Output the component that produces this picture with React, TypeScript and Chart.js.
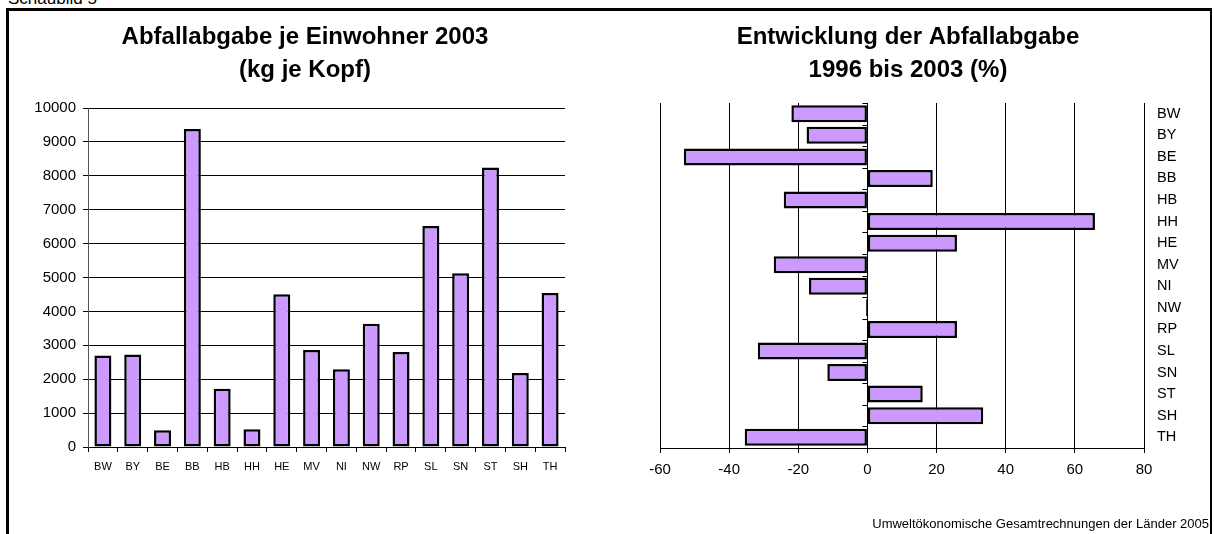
import React, { useEffect, useRef } from "react";
import { Chart, registerables } from "chart.js";

Chart.register(...registerables);

// ---------- data ----------
const categories = ["BW", "BY", "BE", "BB", "HB", "HH", "HE", "MV", "NI", "NW", "RP", "SL", "SN", "ST", "SH", "TH"];
const wastePerCapita2003 = [2700, 2730, 495, 9380, 1715, 525, 4505, 2865, 2295, 3635, 2805, 6520, 5125, 8245, 2180, 4540];
const change1996to2003 = [-22.0, -17.6, -53.1, 18.9, -24.2, 65.8, 25.9, -27.1, -16.9, -0.4, 25.9, -31.7, -11.6, 16.0, 33.5, -35.5];
const leftTitle = ["Abfallabgabe je Einwohner 2003", "(kg je Kopf)"];
const rightTitle = ["Entwicklung der Abfallabgabe", "1996 bis 2003 (%)"];
const leftAxis = { min: 0, max: 10000, step: 1000 };
const rightAxis = { min: -60, max: 80, step: 20 };
const pageHeading = "Schaubild 5";
const sourceNote = "Umweltökonomische Gesamtrechnungen der Länder 2005";

const FONT = "'Liberation Sans', Arial, Helvetica, sans-serif";
const BAR_FILL = "#CC99FF";

Chart.defaults.color = "#000";
Chart.defaults.font.family = FONT;

// invisible spacer scale (used only to centre the titles like the original)
const spacer = (position: string, width: number) => ({
  type: "linear",
  position,
  display: true,
  grid: { display: false, drawTicks: false },
  border: { display: false },
  ticks: { display: false },
  afterFit: (s: any) => {
    s.width = width;
  },
});

function LeftChart() {
  const ref = useRef<HTMLCanvasElement>(null);
  useEffect(() => {
    const chart = new Chart(ref.current!, {
      type: "bar",
      data: {
        labels: categories,
        datasets: [
          {
            data: wastePerCapita2003,
            xAxisID: "x",
            yAxisID: "y",
            backgroundColor: BAR_FILL,
            borderColor: "#000",
            borderWidth: 2.5,
            borderSkipped: false,
            barPercentage: 0.57,
            categoryPercentage: 1,
          },
        ],
      },
      options: {
        responsive: false,
        animation: false,
        devicePixelRatio: 1,
        layout: { padding: { left: 10, right: 0, top: 0, bottom: 47 } },
        plugins: {
          legend: { display: false },
          tooltip: { enabled: false },
          title: {
            display: true,
            text: leftTitle,
            color: "#000",
            font: { family: FONT, size: 24, weight: "bold", lineHeight: 1.375 },
            padding: { top: 21, bottom: 21 },
          },
        },
        scales: {
          x: {
            afterFit: (s: any) => {
              s.height = 40;
            },
            grid: { display: true, drawOnChartArea: false, drawTicks: true, tickLength: 5, color: "#000", offset: true },
            border: { display: true, color: "#000", width: 1 },
            ticks: { font: { family: FONT, size: 11 }, color: "#000", padding: 8, maxRotation: 0, autoSkip: false },
          },
          y: {
            min: leftAxis.min,
            max: leftAxis.max,
            position: "left",
            afterFit: (s: any) => {
              s.width = 78;
            },
            grid: { color: "#000", lineWidth: 1, tickLength: 5, drawTicks: true },
            border: { display: true, color: "#555", width: 1 },
            ticks: {
              stepSize: leftAxis.step,
              font: { family: FONT, size: 15 },
              color: "#000",
              padding: 7,
              callback: (v: any) => String(v),
            },
          },
          yr: spacer("right", 35) as any,
        },
      },
    });
    return () => chart.destroy();
  }, []);
  return <canvas ref={ref} width={600} height={534} style={{ position: "absolute", left: 0, top: 0, width: 600, height: 534 }} />;
}

const zeroTicksPlugin = {
  id: "zeroTicks",
  beforeDatasetsDraw(chart: any) {
    const xs = chart.scales.x;
    const ys = chart.scales.y;
    const x0 = xs.getPixelForValue(0);
    const ctx = chart.ctx;
    ctx.save();
    ctx.strokeStyle = "#000";
    ctx.lineWidth = 1;
    ctx.beginPath();
    for (let i = 0; i <= categories.length; i++) {
      const py = Math.round(ys.getPixelForValue(i - 0.5)) + 0.5;
      ctx.moveTo(x0 - 5, py);
      ctx.lineTo(x0, py);
    }
    ctx.stroke();
    ctx.restore();
  },
};

function RightChart() {
  const ref = useRef<HTMLCanvasElement>(null);
  useEffect(() => {
    const chart = new Chart(ref.current!, {
      type: "bar",
      data: {
        labels: categories,
        datasets: [
          {
            data: change1996to2003,
            xAxisID: "x",
            yAxisID: "y",
            backgroundColor: BAR_FILL,
            borderColor: "#000",
            borderWidth: 2.5,
            borderSkipped: false,
            barPercentage: 0.79,
            categoryPercentage: 1,
          },
        ],
      },
      plugins: [zeroTicksPlugin],
      options: {
        indexAxis: "y",
        responsive: false,
        animation: false,
        devicePixelRatio: 1,
        layout: { padding: { left: 22, right: 20, top: 0, bottom: 46 } },
        plugins: {
          legend: { display: false },
          tooltip: { enabled: false },
          title: {
            display: true,
            text: rightTitle,
            color: "#000",
            font: { family: FONT, size: 24, weight: "bold", lineHeight: 1.375 },
            padding: { top: 21, bottom: 16 },
          },
        },
        scales: {
          x: {
            min: rightAxis.min,
            max: rightAxis.max,
            afterFit: (s: any) => {
              s.height = 40;
            },
            grid: { color: "#000", lineWidth: 1, tickLength: 5, drawTicks: true },
            border: { display: true, color: "#000", width: 1 },
            ticks: {
              stepSize: rightAxis.step,
              font: { family: FONT, size: 15 },
              color: "#000",
              padding: 8,
              callback: (v: any) => String(v),
            },
          },
          y: {
            type: "category",
            position: "right",
            afterFit: (s: any) => {
              s.width = 50;
            },
            grid: { display: false, drawTicks: false },
            border: { display: false },
            ticks: { font: { family: FONT, size: 14.5 }, color: "#000", padding: 13, autoSkip: false },
          },
          yl: spacer("left", 38) as any,
        },
      },
    });
    return () => chart.destroy();
  }, []);
  return <canvas ref={ref} width={614} height={534} style={{ position: "absolute", left: 600, top: 0, width: 614, height: 534 }} />;
}

export default function App() {
  return (
    <div
      style={{
        position: "fixed",
        left: 0,
        top: 0,
        width: 1214,
        height: 534,
        overflow: "hidden",
        background: "#fff",
        fontFamily: FONT,
      }}
    >
      <div style={{ position: "absolute", left: 8, top: -10, fontSize: 17, lineHeight: "17px", color: "#000", whiteSpace: "nowrap" }}>
        {pageHeading}
      </div>
      <LeftChart />
      <RightChart />
      <div
        style={{
          position: "absolute",
          left: 6,
          top: 8,
          width: 1206,
          height: 600,
          boxSizing: "border-box",
          borderLeft: "3px solid #000",
          borderTop: "3px solid #000",
          borderRight: "2px solid #000",
          pointerEvents: "none",
        }}
      />
      <div
        style={{
          position: "absolute",
          right: 5,
          top: 517,
          fontSize: 13,
          lineHeight: "13px",
          color: "#000",
          whiteSpace: "nowrap",
        }}
      >
        {sourceNote}
      </div>
    </div>
  );
}
